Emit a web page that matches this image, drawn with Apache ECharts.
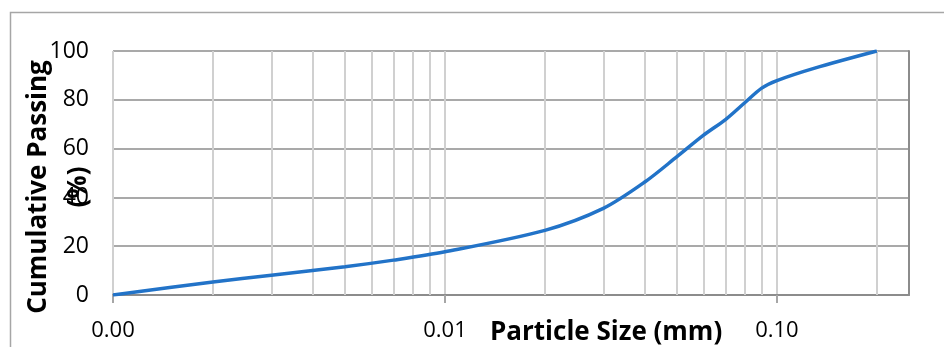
<!DOCTYPE html>
<html>
<head>
<meta charset="utf-8">
<script src="https://cdn.jsdelivr.net/npm/echarts@6/dist/echarts.min.js"></script>
<style>
html,body{margin:0;padding:0;background:#fff;}
#chart{width:944px;height:347px;}
</style>
</head>
<body>
<div id="chart"></div>
<script>
// Data
const particleSize = [0.001, 0.002, 0.003, 0.005, 0.007, 0.01,
  0.02, 0.03, 0.04, 0.05, 0.06, 0.07, 0.08, 0.09, 0.1, 0.13, 0.2];
const cumulativePassing = [0, 5.3, 8.1, 11.6, 14.3, 17.7,
  26.5, 35.5, 46.3, 56.7, 65.4, 71.9, 78.8, 84.8, 87.9, 93.0, 100];
const minorGrid = [0.002, 0.003, 0.004, 0.005, 0.006, 0.007, 0.008, 0.009,
  0.02, 0.03, 0.04, 0.05, 0.06, 0.07, 0.08, 0.09, 0.2];
const xTitle = 'Particle Size (mm)';
const yTitle = 'Cumulative Passing\n(%)';

const chart = echarts.init(document.getElementById('chart'), null, {renderer: 'canvas'});
const font = '"Open Sans", sans-serif';

chart.setOption({
  animation: false,
  backgroundColor: '#ffffff',
  grid: {left: 113, right: 35, top: 51, bottom: 52, containLabel: false},
  title: {
    text: xTitle, left: 485, top: 315,
    textStyle: {fontFamily: font, fontWeight: 'bold', fontSize: 26, color: '#000'}
  },
  graphic: [
    {type: 'rect', shape: {x: 10.5, y: 12.5, width: 1000, height: 400}, style: {fill: 'none', stroke: '#a6a6a6', lineWidth: 1.5}, z: -10, silent: true},
    {type: 'text', x: 59, y: 187, rotation: Math.PI / 2,
      style: {text: yTitle, fontFamily: font, fontWeight: 'bold', fontSize: 26, lineHeight: 40, fill: '#000', align: 'center', verticalAlign: 'middle'}, z: 100}
  ],
  xAxis: {
    type: 'log', logBase: 10, min: 0.001, max: 0.25,
    axisLine: {show: true, lineStyle: {color: '#8c8c8c', width: 2}},
    axisTick: {show: true, length: 8, lineStyle: {color: '#a6a6a6', width: 2}},
    axisLabel: {
      fontFamily: font, fontSize: 22, color: '#000', margin: 25, showMaxLabel: false,
      formatter: v => (v > 0.2 ? '' : Number(v).toFixed(2))
    },
    splitLine: {show: true, lineStyle: {color: '#d0d0d0', width: 2}}
  },
  yAxis: [{
    type: 'value', min: 0, max: 100, interval: 20,
    axisLine: {show: false}, axisTick: {show: false},
    axisLabel: {fontFamily: font, fontSize: 23, color: '#000', margin: 24},
    splitLine: {show: true, lineStyle: {color: '#a9a9a9', width: 2}}
  }, {
    type: 'value', min: 0, max: 100, interval: 20, position: 'right',
    axisLine: {show: true, lineStyle: {color: '#8c8c8c', width: 2}},
    axisTick: {show: false}, axisLabel: {show: false}, splitLine: {show: false}
  }],
  series: [{
    type: 'line', data: [[0.001, 0]], z: 1, silent: true, symbol: 'none',
    lineStyle: {opacity: 0},
    markLine: {
      silent: true, symbol: ['none', 'none'], label: {show: false}, animation: false,
      lineStyle: {type: 'solid', color: '#d0d0d0', width: 2},
      emphasis: {disabled: true},
      data: minorGrid.map(v => [{coord: [v, 0]}, {coord: [v, 100]}])
    }
  }, {
    type: 'line', z: 5,
    data: particleSize.map((x, i) => [x, cumulativePassing[i]]),
    smooth: 0.3, showSymbol: false, symbol: 'none',
    lineStyle: {color: '#2273C8', width: 3.5}
  }]
});
</script>
</body>
</html>
